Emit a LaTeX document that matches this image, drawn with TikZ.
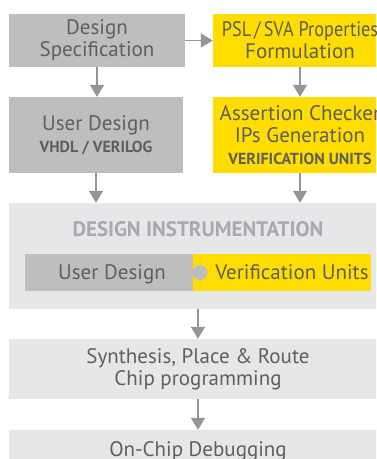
\documentclass[tikz,border=0pt]{standalone}
\usepackage{fontspec}
\usepackage{graphicx}
\setmainfont{PT Sans}
\usetikzlibrary{arrows.meta}
\definecolor{boxgray}{HTML}{BCBEC0}
\definecolor{boxyellow}{HTML}{FFDD00}
\definecolor{panelgray}{HTML}{E6E7E8}
\definecolor{textgray}{HTML}{5E5F61}
\definecolor{titlegray}{HTML}{A7A9AC}
\definecolor{arrowgray}{HTML}{939598}
\tikzset{
  stepbox/.style={rectangle, inner sep=0pt, align=center, text=textgray,
    font=\fontsize{21}{22}\selectfont},
  flow/.style={draw=arrowgray, line width=1.5pt,
    -{Triangle[width=14pt,length=12pt]}}
}
\newcommand{\subtxt}[1]{{\bfseries\fontsize{16}{21}\selectfont #1}}
\begin{document}
\begin{tikzpicture}[x=1pt,y=-1pt]
\useasboundingbox (0,0) rectangle (376,459);
\fill[white] (0,0) rectangle (376,459);
\clip (0,0) rectangle (376,459);

% top row
\node[stepbox, fill=boxgray, minimum width=176pt, minimum height=53pt] (spec) at (97,40.5)
  {Design\\Specification};
\node[stepbox, fill=boxyellow, minimum width=174pt, minimum height=53pt] (psl) at (300,40.5)
  {\scalebox{0.87}[1]{PSL\,/\,SVA Properties}\\Formulation};

% second row
\node[stepbox, fill=boxgray, minimum width=174pt, minimum height=76pt] (user) at (96,135)
  {User Design\\\subtxt{VHDL / VERILOG}};
\node[stepbox, fill=boxyellow, minimum width=174pt, minimum height=76pt] (assert) at (300,135)
  {Assertion Checker\\IPs Generation\\\subtxt{VERIFICATION UNITS}};

% instrumentation panel
\node[stepbox, fill=panelgray, minimum width=378pt, minimum height=106pt] (instr) at (198,256) {};
\node[text=titlegray, font=\bfseries\fontsize{21}{22}\selectfont, inner sep=0pt, anchor=base]
  (instrtitle) at (198,236.5) {DESIGN INSTRUMENTATION};
\node[stepbox, fill=boxgray, minimum width=168pt, minimum height=37pt] (iuser) at (109,272.5) {};
\node[stepbox, fill=boxyellow, minimum width=178pt, minimum height=37pt] (iverif) at (282,272.5) {};
\fill[boxgray] (200,272.5) circle (7.5);
\node[stepbox, anchor=base] (iusertxt) at (112,279.5) {User Design};
\node[stepbox, anchor=base] (iveriftxt) at (292,279.5) {Verification Units};

% lower steps
\node[stepbox, fill=panelgray, minimum width=378pt, minimum height=60pt] (synth) at (198,369)
  {Synthesis, Place \& Route\\Chip programming};
\node[stepbox, fill=panelgray, minimum width=378pt, minimum height=44pt] (debug) at (198,452) {};
\node[stepbox, anchor=base] (debugtxt) at (198,456) {On-Chip Debugging};

% connectors
\draw[flow] (spec.east) -- (psl.west);
\draw[flow] (spec.south) -- (user.north -| spec.south);
\draw[flow] (psl.south) -- (assert.north);
\draw[flow] (user.south) -- (user.south |- instr.north);
\draw[flow] (assert.south) -- (assert.south |- instr.north);
\draw[flow] (instr.south) -- (synth.north);
\draw[flow] (synth.south) -- (debug.north);
\end{tikzpicture}
\end{document}
